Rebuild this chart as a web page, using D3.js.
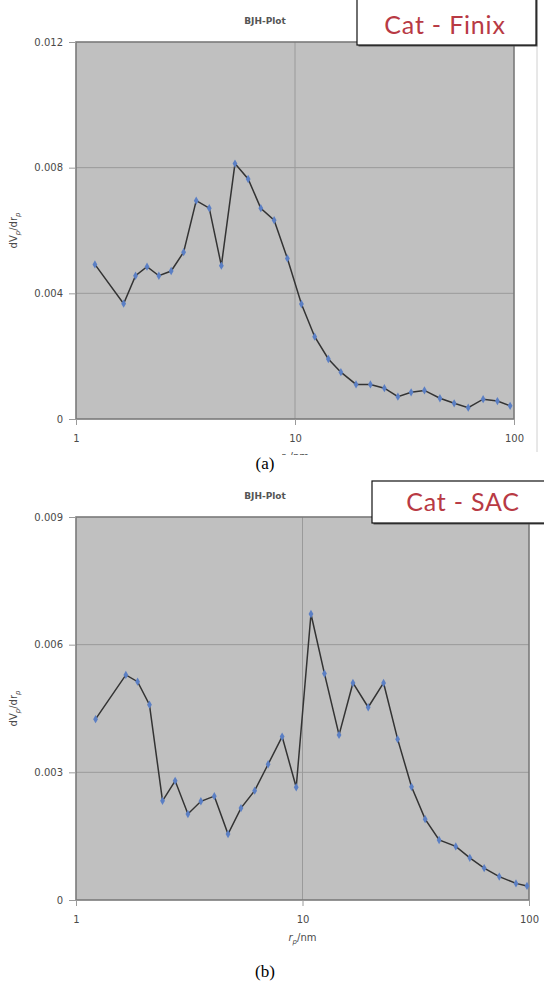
<!DOCTYPE html>
<html>
<head>
<meta charset="utf-8">
<script src="https://cdnjs.cloudflare.com/ajax/libs/d3/7.8.5/d3.min.js"></script>
<style>
  body { margin: 0; background: #fff; }
  svg { display: block; }
</style>
</head>
<body>
<div id="chart"></div>
<script>
// pore radius r_p (nm) and dV_p/dr_p
var finixR  = [1.22, 1.65, 1.87, 2.11, 2.39, 2.72, 3.10, 3.54, 4.06, 4.61, 5.32, 6.11, 6.98, 8.03, 9.23,
               10.7, 12.3, 14.2, 16.2, 19.0, 22.1, 25.6, 29.5, 33.9, 39.0, 45.9, 53.3, 61.8, 72.3, 84.0, 96];
var finixDV = [0.00492, 0.00367, 0.00456, 0.00485, 0.00456, 0.00471, 0.00531, 0.00695, 0.00671, 0.00488,
               0.00813, 0.00764, 0.00671, 0.00633, 0.00511, 0.00366, 0.00262, 0.00191, 0.00149, 0.00110,
               0.00110, 0.00098, 0.00071, 0.00085, 0.00091, 0.00066, 0.00050, 0.00036, 0.00063, 0.00057, 0.00042];

var sacR  = [1.22, 1.66, 1.87, 2.11, 2.41, 2.74, 3.12, 3.56, 4.08, 4.69, 5.35, 6.15, 7.05, 8.13, 9.38,
             10.9, 12.5, 14.5, 16.7, 19.5, 22.8, 26.3, 30.3, 34.8, 40.1, 47.5, 54.8, 63.4, 73.9, 87.6, 98];
var sacDV = [0.00425, 0.00529, 0.00513, 0.00459, 0.00233, 0.00280, 0.00202, 0.00232, 0.00244, 0.00155,
             0.00216, 0.00257, 0.00319, 0.00384, 0.00265, 0.00672, 0.00532, 0.00388, 0.00510, 0.00453,
             0.00510, 0.00378, 0.00266, 0.00190, 0.00141, 0.00126, 0.00099, 0.00075, 0.00055, 0.00039, 0.00033];

var xTicks = [1, 10, 100];
var finixYTicks = [0, 0.004, 0.008, 0.012];
var sacYTicks = [0, 0.003, 0.006, 0.009];

var chartTitle = "BJH-Plot";
var sampleLabels = ["Cat - Finix", "Cat - SAC"];
var captions = ["(a)", "(b)"];

var W = 544, H = 981;
var svg = d3.select("#chart").append("svg")
    .attr("width", W)
    .attr("height", H);

var defs = svg.append("defs");

function drawPanel(p)
{
    var g = svg.append("g");

    var x = d3.scaleLog().domain([1, 100]).range([p.left, p.right]);
    var y = d3.scaleLinear().domain([0, p.yTicks[p.yTicks.length - 1]]).range([p.bottom, p.top]);
    var yMax = p.yTicks[p.yTicks.length - 1];

    // plot area
    g.append("rect")
        .attr("x", x(1)).attr("y", y(yMax))
        .attr("width", x(100) - x(1)).attr("height", y(0) - y(yMax))
        .attr("fill", "#c0c0c0");

    // grid lines
    g.selectAll("line.y-grid")
        .data(p.yTicks.slice(1, -1))
        .enter().append("line")
        .attr("x1", x(1)).attr("x2", x(100))
        .attr("y1", function(d) { return y(d); })
        .attr("y2", function(d) { return y(d); })
        .style("stroke", "#9a9a9a").style("stroke-width", 1);

    g.selectAll("line.x-grid")
        .data([10])
        .enter().append("line")
        .attr("x1", function(d) { return x(d); })
        .attr("x2", function(d) { return x(d); })
        .attr("y1", y(0)).attr("y2", y(yMax))
        .style("stroke", "#9a9a9a").style("stroke-width", 1);

    // frame
    g.append("rect")
        .attr("x", x(1)).attr("y", y(yMax))
        .attr("width", x(100) - x(1)).attr("height", y(0) - y(yMax))
        .attr("fill", "none")
        .style("stroke", "#7a7a7a").style("stroke-width", 1.6);

    // axes
    var yAxis = d3.axisLeft(y).tickValues(p.yTicks).tickSize(7).tickPadding(6)
        .tickFormat(function(d) { return d === 0 ? "0" : d3.format(".3f")(d); });
    var yg = g.append("g")
        .attr("transform", "translate(" + x(1) + ",0)")
        .call(yAxis);

    var xAxis = d3.axisBottom(x).tickValues(xTicks).tickSize(6).tickPadding(10)
        .tickFormat(d3.format("d"));
    var xg = g.append("g")
        .attr("transform", "translate(0," + y(0) + ")")
        .call(xAxis);

    [yg, xg].forEach(function(a) {
        a.select(".domain").remove();
        a.selectAll(".tick line").style("stroke", "#9a9a9a");
        a.selectAll(".tick text")
            .style("font-family", "'DejaVu Sans', sans-serif")
            .style("font-size", "10px")
            .style("fill", "#4a4a4a");
    });

    // series line and markers
    var pts = p.r.map(function(r, i) { return [r, p.dv[i]]; });
    var line = d3.line()
        .x(function(d) { return x(d[0]); })
        .y(function(d) { return y(d[1]); });

    g.append("path")
        .datum(pts)
        .attr("d", line)
        .attr("fill", "none")
        .style("stroke", "#333")
        .style("stroke-width", 1.5);

    g.selectAll("path.marker")
        .data(pts)
        .enter().append("path")
        .attr("class", "marker")
        .attr("transform", function(d) { return "translate(" + x(d[0]) + "," + y(d[1]) + ")"; })
        .attr("d", d3.symbol().type(d3.symbolDiamond).size(20))
        .style("fill", "#5b7fc4");

    // chart title
    g.append("text")
        .attr("x", p.titleX).attr("y", p.titleY)
        .attr("text-anchor", "middle")
        .style("font-family", "'DejaVu Sans', sans-serif")
        .style("font-size", "9px")
        .style("font-weight", "bold")
        .style("fill", "#555")
        .text(chartTitle);

    // y axis title dV_p/dr_p
    var yt = g.append("text")
        .attr("transform", "translate(" + p.yTitleX + "," + ((p.top + p.bottom) / 2) + ") rotate(-90)")
        .attr("text-anchor", "middle")
        .style("font-family", "'DejaVu Sans', sans-serif")
        .style("font-size", "10px")
        .style("fill", "#4a4a4a");
    yt.append("tspan").text("dV");
    yt.append("tspan").attr("dy", 3).style("font-size", "7px").style("font-style", "italic").text("p");
    yt.append("tspan").attr("dy", -3).text("/dr");
    yt.append("tspan").attr("dy", 3).style("font-size", "7px").style("font-style", "italic").text("p");

    // x axis title r_p/nm (the top one is cut off by the caption in the original)
    var clipId = "clip" + p.id;
    defs.append("clipPath").attr("id", clipId)
        .append("rect").attr("x", 0).attr("y", 0).attr("width", W).attr("height", p.xTitleClip);
    var xt = g.append("text")
        .attr("clip-path", "url(#" + clipId + ")")
        .attr("x", (x(1) + x(100)) / 2).attr("y", p.xTitleY)
        .attr("text-anchor", "middle")
        .style("font-family", "'DejaVu Sans', sans-serif")
        .style("font-size", "10px")
        .style("fill", "#4a4a4a");
    xt.append("tspan").style("font-style", "italic").text("r");
    xt.append("tspan").attr("dy", 3).style("font-size", "7px").style("font-style", "italic").text("p");
    xt.append("tspan").attr("dy", -3).text("/nm");

    // sample label box
    var bx = p.box;
    g.append("rect")
        .attr("x", bx.x + 1.5).attr("y", bx.y + 1.5)
        .attr("width", bx.w).attr("height", bx.h)
        .attr("fill", "#555");
    g.append("rect")
        .attr("x", bx.x).attr("y", bx.y)
        .attr("width", bx.w).attr("height", bx.h)
        .attr("fill", "#fff")
        .style("stroke", "#111").style("stroke-width", 1.2);
    g.append("text")
        .attr("x", bx.tx).attr("y", bx.ty)
        .attr("text-anchor", "middle")
        .style("font-family", "Lato, 'DejaVu Sans', sans-serif")
        .style("font-size", "25px")
        .style("letter-spacing", "0.8px")
        .style("fill", "#b83a44")
        .text(p.label);

    // caption
    svg.append("text")
        .attr("x", p.capX).attr("y", p.capY)
        .attr("text-anchor", "middle")
        .style("font-family", "'Liberation Serif', 'DejaVu Serif', serif")
        .style("font-size", "17px")
        .style("fill", "#000")
        .text(p.caption);
}

// outer border of the first chart picture
svg.append("line")
    .attr("x1", 537).attr("x2", 537).attr("y1", 0).attr("y2", 452)
    .style("stroke", "#d0d0d0").style("stroke-width", 1);

drawPanel({
    id: "a", r: finixR, dv: finixDV, yTicks: finixYTicks,
    left: 76, right: 514, top: 42, bottom: 419,
    titleX: 265, titleY: 24, yTitleX: 17,
    xTitleY: 460, xTitleClip: 455,
    box: { x: 357, y: -5, w: 179, h: 50, tx: 445, ty: 34 },
    label: sampleLabels[0], caption: captions[0], capX: 265, capY: 469
});

drawPanel({
    id: "b", r: sacR, dv: sacDV, yTicks: sacYTicks,
    left: 76, right: 529, top: 517, bottom: 900,
    titleX: 265, titleY: 499, yTitleX: 17,
    xTitleY: 941, xTitleClip: H,
    box: { x: 372, y: 481, w: 180, h: 42, tx: 463, ty: 511 },
    label: sampleLabels[1], caption: captions[1], capX: 265, capY: 977
});
</script>
</body>
</html>
